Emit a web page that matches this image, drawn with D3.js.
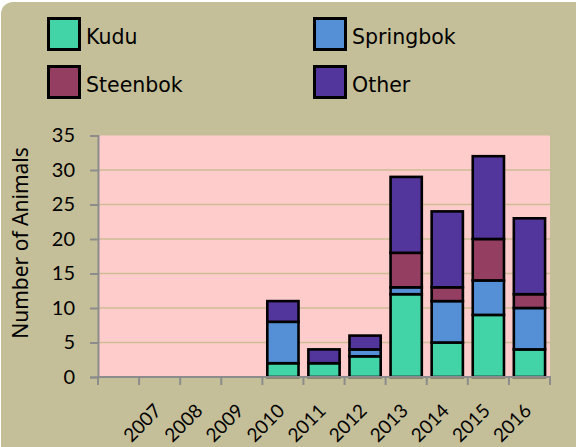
<!DOCTYPE html>
<html>
<head>
<meta charset="utf-8">
<script src="https://cdn.jsdelivr.net/npm/d3@7"></script>
<style>
  html, body { margin: 0; padding: 0; background: #ffffff; }
  svg { display: block; }
</style>
</head>
<body>
<svg id="chart" width="576" height="447"></svg>
<script>
// ---- data ----
const categories = ["", "2007", "2008", "2009", "2010", "2011", "2012", "2013", "2014", "2015", "2016"];
const seriesNames = ["Kudu", "Springbok", "Steenbok", "Other"];
const kudu      = [0, 0, 0, 0, 2, 2, 3, 12, 5, 9, 4];
const springbok = [0, 0, 0, 0, 6, 0, 1, 1, 6, 5, 6];
const steenbok  = [0, 0, 0, 0, 0, 0, 0, 5, 2, 6, 2];
const other     = [0, 0, 0, 0, 3, 2, 2, 11, 11, 12, 11];
const yTicks = [0, 5, 10, 15, 20, 25, 30, 35];
const yTitle = "Number of Animals";

// ---- style ----
const colors = ["#42D4A7", "#558FD5", "#943F62", "#53369C"];
const frameColor = "#C5BF99";
const plotColor = "#FFCCCC";
const gridColor = "#CDBD95";
const axisColor = "#8C8C8C";

const svg = d3.select("#chart");
const W = 576, H = 447;
const plot = { left: 98, right: 550, top: 135.5, bottom: 377 };

// frame
svg.append("rect")
  .attr("x", 1).attr("y", 2).attr("width", W + 20).attr("height", H + 20)
  .attr("rx", 12).attr("fill", frameColor);

const table = categories.map((c, i) => ({
  cat: c, Kudu: kudu[i], Springbok: springbok[i], Steenbok: steenbok[i], Other: other[i]
}));

const x = d3.scaleBand().domain(categories).range([plot.left, plot.right])
  .paddingInner(0.24).paddingOuter(0.12);
const y = d3.scaleLinear().domain([0, 35]).range([plot.bottom, plot.top]);

// plot area
svg.append("rect")
  .attr("x", plot.left).attr("y", y(35))
  .attr("width", plot.right - plot.left).attr("height", y(0) - y(35))
  .attr("fill", plotColor);

// gridlines
svg.append("g").selectAll("line").data(yTicks.filter(t => t > 0 && t < 35)).join("line")
  .attr("x1", plot.left).attr("x2", plot.right)
  .attr("y1", d => y(d)).attr("y2", d => y(d))
  .attr("stroke", gridColor).attr("stroke-width", 1.6);

// bars
const stack = d3.stack().keys(seriesNames)(table);
const gBars = svg.append("g");
stack.forEach((layer, si) => {
  gBars.append("g").selectAll("rect")
    .data(layer.filter(d => d[1] - d[0] > 0))
    .join("rect")
    .attr("x", d => x(d.data.cat))
    .attr("width", x.bandwidth())
    .attr("y", d => y(d[1]))
    .attr("height", d => y(d[0]) - y(d[1]))
    .attr("fill", colors[si])
    .attr("stroke", "#000")
    .attr("stroke-width", 2.6);
});

// y axis
const yAxis = d3.axisLeft(y).tickValues(yTicks).tickSize(8).tickPadding(15);
const gy = svg.append("g").attr("transform", `translate(${plot.left},0)`).call(yAxis);
gy.select(".domain").attr("stroke", axisColor).attr("stroke-width", 2);
gy.selectAll(".tick line").attr("stroke", axisColor).attr("stroke-width", 2);
gy.selectAll(".tick text")
  .attr("font-family", "Lato, sans-serif").attr("font-size", "20px").attr("fill", "#000");

// x axis (boundary ticks)
const step = x.step();
const bounds = d3.range(categories.length + 1).map(i => x.range()[0] + i * step);
svg.append("line")
  .attr("x1", plot.left - 1).attr("x2", plot.right + 1)
  .attr("y1", y(0)).attr("y2", y(0))
  .attr("stroke", axisColor).attr("stroke-width", 2);
svg.append("g").selectAll("line").data(bounds).join("line")
  .attr("x1", d => d).attr("x2", d => d)
  .attr("y1", y(0)).attr("y2", y(0) + 8)
  .attr("stroke", axisColor).attr("stroke-width", 2);

svg.append("g").selectAll("text").data(categories.filter(c => c !== "")).join("text")
  .attr("transform", d => `translate(${x(d) + x.bandwidth() / 2 + 3},${y(0) + 35}) rotate(-45)`)
  .attr("text-anchor", "end")
  .attr("font-family", "Lato, sans-serif").attr("font-size", "19px").attr("fill", "#000")
  .text(d => d);

// y title
svg.append("text")
  .attr("transform", `translate(28,${243}) rotate(-90)`)
  .attr("text-anchor", "middle")
  .attr("font-family", "'Noto Sans', sans-serif").attr("font-size", "21px")
  .attr("fill", "#000")
  .text(yTitle);

// legend
const legendPos = [
  { x: 48.5, y: 18.5 }, { x: 314.5, y: 18.5 },
  { x: 48.5, y: 66.5 }, { x: 314.5, y: 66.5 }
];
const lg = svg.append("g").selectAll("g").data(seriesNames).join("g")
  .attr("transform", (d, i) => `translate(${legendPos[i].x},${legendPos[i].y})`);
lg.append("rect")
  .attr("width", 31).attr("height", 31)
  .attr("fill", (d, i) => colors[i])
  .attr("stroke", "#000").attr("stroke-width", 3);
lg.append("text")
  .attr("x", 37.5).attr("y", 25.5)
  .attr("font-family", "'DejaVu Sans', sans-serif").attr("font-size", "20.5px").attr("fill", "#000")
  .text(d => d);
</script>
</body>
</html>
